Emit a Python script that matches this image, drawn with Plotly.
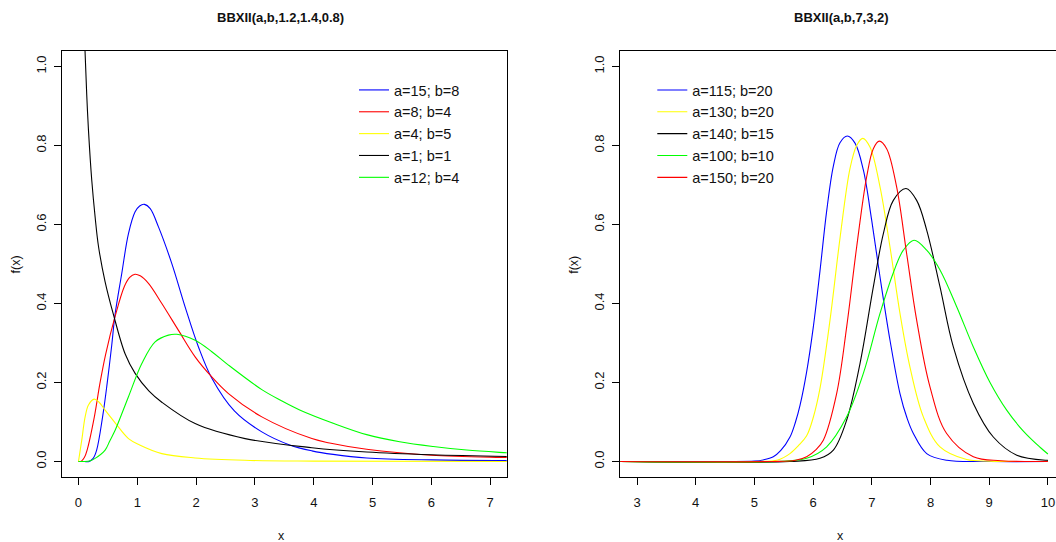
import plotly.graph_objects as go

# ---------------- Left panel: BBXII(a,b,1.2,1.4,0.8) ----------------
l_blue_x = [0, 0.1, 0.18, 0.25, 0.309, 0.41, 0.487, 0.566, 0.62, 0.736, 0.85, 0.963, 1.04, 1.122, 1.22, 1.36, 1.587, 1.814, 2.04, 2.27, 2.65, 3.117, 3.59, 3.968, 4.33, 4.9, 6.0, 7.5]
l_blue_y = [0, 0, 0, 0.008, 0.029, 0.113, 0.197, 0.295, 0.370, 0.476, 0.577, 0.632, 0.647, 0.651, 0.640, 0.594, 0.501, 0.391, 0.290, 0.210, 0.128, 0.075, 0.042, 0.027, 0.018, 0.009, 0.004, 0.002]

l_red_x = [0, 0.05, 0.1, 0.147, 0.27, 0.364, 0.46, 0.62, 0.78, 0.87, 0.96, 1.05, 1.19, 1.417, 1.70, 1.983, 2.267, 2.55, 3.117, 3.968, 4.27, 4.9, 6.0, 7.28, 7.5]
l_red_y = [0, 0.001, 0.010, 0.029, 0.113, 0.197, 0.270, 0.366, 0.443, 0.466, 0.474, 0.470, 0.451, 0.400, 0.332, 0.265, 0.214, 0.172, 0.113, 0.058, 0.047, 0.031, 0.016, 0.010, 0.009]

l_yellow_x = [0, 0.056, 0.113, 0.17, 0.266, 0.35, 0.453, 0.623, 0.85, 1.04, 1.417, 1.983, 2.83, 4.0, 7.5]
l_yellow_y = [0, 0.054, 0.113, 0.143, 0.158, 0.150, 0.130, 0.098, 0.058, 0.042, 0.020, 0.009, 0.003, 0.001, 0.0]

l_black_x = [0.11, 0.14, 0.17, 0.226, 0.283, 0.34, 0.453, 0.589, 0.794, 0.963, 1.2, 1.417, 1.983, 2.833, 3.968, 4.9, 6.0, 7.5]
l_black_y = [1.045, 0.930, 0.839, 0.712, 0.619, 0.545, 0.455, 0.375, 0.272, 0.223, 0.178, 0.150, 0.096, 0.058, 0.035, 0.024, 0.017, 0.012]

l_green_x = [0, 0.1, 0.2, 0.283, 0.453, 0.532, 0.623, 0.85, 1.077, 1.303, 1.53, 1.672, 1.983, 2.267, 2.55, 3.117, 3.45, 3.77, 4.33, 4.9, 5.46, 6.03, 6.6, 7.28, 7.5]
l_green_y = [0, 0, 0.002, 0.008, 0.029, 0.052, 0.079, 0.164, 0.248, 0.303, 0.320, 0.322, 0.307, 0.278, 0.244, 0.182, 0.154, 0.130, 0.097, 0.068, 0.050, 0.038, 0.029, 0.022, 0.020]

left_names = ["a=15; b=8", "a=8; b=4", "a=4; b=5", "a=1; b=1", "a=12; b=4"]

# ---------------- Right panel: BBXII(a,b,7,3,2) ----------------
r_blue_x = [2.7, 4.5, 5.0, 5.15, 5.322, 5.45, 5.606, 5.7, 5.777, 5.89, 6.004, 6.117, 6.231, 6.345, 6.458, 6.583, 6.714, 6.856, 6.998, 7.14, 7.31, 7.48, 7.6, 7.708, 7.935, 8.28, 9.0, 10.0]
r_blue_y = [0, 0, 0.001, 0.004, 0.012, 0.028, 0.062, 0.100, 0.142, 0.227, 0.341, 0.482, 0.634, 0.748, 0.807, 0.824, 0.806, 0.738, 0.611, 0.467, 0.307, 0.172, 0.110, 0.071, 0.020, 0.003, 0, 0]

r_yellow_x = [2.7, 5.0, 5.4, 5.606, 5.75, 5.89, 6.004, 6.117, 6.288, 6.458, 6.629, 6.742, 6.845, 6.969, 7.14, 7.31, 7.48, 7.65, 7.878, 8.162, 8.616, 9.0, 10.0]
r_yellow_y = [0, 0, 0.004, 0.020, 0.040, 0.065, 0.112, 0.185, 0.358, 0.565, 0.742, 0.800, 0.818, 0.796, 0.695, 0.543, 0.375, 0.239, 0.113, 0.037, 0.005, 0.001, 0]

r_black_x = [2.7, 5.6, 6.117, 6.345, 6.572, 6.799, 7.026, 7.197, 7.367, 7.583, 7.764, 7.935, 8.162, 8.389, 8.73, 9.07, 9.47, 9.98, 10.0]
r_black_y = [0, 0, 0.008, 0.029, 0.105, 0.248, 0.442, 0.577, 0.661, 0.691, 0.661, 0.586, 0.442, 0.290, 0.147, 0.062, 0.016, 0.003, 0.003]

r_green_x = [2.7, 5.4, 5.89, 6.231, 6.572, 6.856, 7.14, 7.367, 7.537, 7.719, 7.935, 8.162, 8.446, 8.73, 9.014, 9.298, 9.582, 9.866, 10.0]
r_green_y = [0, 0, 0.008, 0.037, 0.113, 0.223, 0.375, 0.478, 0.535, 0.560, 0.535, 0.485, 0.392, 0.290, 0.200, 0.130, 0.077, 0.036, 0.019]

r_red_x = [2.7, 5.3, 5.7, 5.89, 6.05, 6.174, 6.401, 6.572, 6.742, 6.913, 7.026, 7.128, 7.253, 7.423, 7.594, 7.764, 7.991, 8.275, 8.73, 9.2, 10.0]
r_red_y = [0, 0, 0.003, 0.012, 0.030, 0.054, 0.172, 0.341, 0.543, 0.721, 0.792, 0.811, 0.792, 0.695, 0.526, 0.358, 0.189, 0.071, 0.012, 0.002, 0]

right_names = ["a=115; b=20", "a=130; b=20", "a=140; b=15", "a=100; b=10", "a=150; b=20"]

titles = ["BBXII(a,b,1.2,1.4,0.8)", "BBXII(a,b,7,3,2)"]
x_ticks_left = [0, 1, 2, 3, 4, 5, 6, 7]
x_ticks_right = [3, 4, 5, 6, 7, 8, 9, 10]
y_ticks = [0.0, 0.2, 0.4, 0.6, 0.8, 1.0]

BLUE, RED, YELLOW, BLACK, GREEN = "#0000FF", "#FF0000", "#FFFF00", "#000000", "#00FF00"
FONT = "Liberation Sans, Arial, Helvetica, sans-serif"
TXT = "#111111"

# Full-window figure; the page's default body margin is removed by a small post script.
FW, FH = 1056, 542


def px(p):
    return p / FW


def py(p):
    return 1 - p / FH


# plot-region geometry in page pixels
L_X0, L_X1 = 62.0, 506.7
R_X0 = 620.3
Y_TOP, Y_BOT = 50.7, 477.3
PX_PER_UNIT = 58.7

fig = go.Figure()

left_series = [(l_blue_x, l_blue_y, BLUE), (l_red_x, l_red_y, RED), (l_yellow_x, l_yellow_y, YELLOW),
               (l_black_x, l_black_y, BLACK), (l_green_x, l_green_y, GREEN)]
for (xs, ys, c), nm in zip(left_series, left_names):
    fig.add_trace(go.Scatter(x=xs, y=ys, mode="lines", name=nm,
                             line=dict(color=c, width=1.1, shape="spline", smoothing=1.0),
                             xaxis="x", yaxis="y", legend="legend"))

right_series = [(r_blue_x, r_blue_y, BLUE), (r_yellow_x, r_yellow_y, YELLOW), (r_black_x, r_black_y, BLACK),
                (r_green_x, r_green_y, GREEN), (r_red_x, r_red_y, RED)]
for (xs, ys, c), nm in zip(right_series, right_names):
    fig.add_trace(go.Scatter(x=xs, y=ys, mode="lines", name=nm,
                             line=dict(color=c, width=1.1, shape="spline", smoothing=1.0),
                             xaxis="x2", yaxis="y2", legend="legend2"))

ydom = [py(Y_BOT), py(Y_TOP)]
axis_common = dict(showgrid=False, zeroline=False, showline=True, linecolor="black", linewidth=1,
                   ticks="outside", ticklen=7, tickwidth=1, tickcolor="black",
                   ticklabeloverflow="allow",
                   tickfont=dict(family=FONT, size=13, color=TXT))

r_lo = 3 - (637 - R_X0) / PX_PER_UNIT
r_hi = r_lo + (1056 - R_X0) / PX_PER_UNIT

fig.update_layout(
    width=FW, height=FH,
    margin=dict(l=0, r=0, t=0, b=0),
    paper_bgcolor="white", plot_bgcolor="white",
    font=dict(family=FONT, color=TXT),
    xaxis=dict(domain=[px(L_X0), px(L_X1)], range=[-0.28, 7.28], tickvals=x_ticks_left,
               mirror=True, anchor="y", ticklabelstandoff=6, **axis_common),
    yaxis=dict(domain=ydom, range=[-0.04, 1.04], tickvals=y_ticks, tickformat=".1f",
               tickangle=-90, mirror=True, anchor="x", ticklabelstandoff=3, **axis_common),
    xaxis2=dict(domain=[px(R_X0), 1.0], range=[r_lo, r_hi], tickvals=x_ticks_right,
                mirror=True, anchor="y2", ticklabelstandoff=6, **axis_common),
    yaxis2=dict(domain=ydom, range=[-0.04, 1.04], tickvals=y_ticks, tickformat=".1f",
                tickangle=-90, mirror=False, anchor="x2", ticklabelstandoff=3, **axis_common),
    legend=dict(x=px(354), y=py(74), xanchor="left", yanchor="top", bgcolor="rgba(0,0,0,0)",
                font=dict(family=FONT, size=14.5, color=TXT), tracegroupgap=0),
    legend2=dict(x=px(652.3), y=py(74), xanchor="left", yanchor="top", bgcolor="rgba(0,0,0,0)",
                 font=dict(family=FONT, size=14.5, color=TXT), tracegroupgap=0),
)

annots = []
for t, cx in zip(titles, [280, 841]):
    annots.append(dict(text="<b>%s</b>" % t, x=px(cx), y=py(17.5), xref="paper", yref="paper",
                       xanchor="center", yanchor="middle", showarrow=False,
                       font=dict(family=FONT, size=13, color=TXT)))
for cx in [281, 840]:
    annots.append(dict(text="x", x=px(cx), y=py(535.5), xref="paper", yref="paper",
                       xanchor="center", yanchor="middle", showarrow=False,
                       font=dict(family=FONT, size=12.5, color=TXT)))
for cx in [15, 573.3]:
    annots.append(dict(text="f(x)", x=px(cx), y=py(264.5), xref="paper", yref="paper",
                       xanchor="center", yanchor="middle", showarrow=False, textangle=-90,
                       font=dict(family=FONT, size=12.5, color=TXT)))
fig.update_layout(annotations=annots)

fig.write_html("out.html",
               config={"displayModeBar": False},
               post_script="document.body.style.margin='0';document.body.style.overflow='hidden';")
